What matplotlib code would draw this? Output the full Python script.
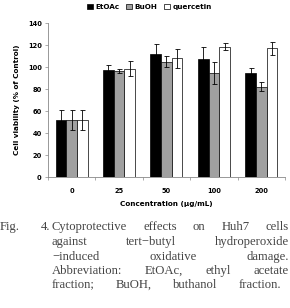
import matplotlib
matplotlib.use("Agg")
import matplotlib.pyplot as plt
import numpy as np
from matplotlib.patches import Patch

conc = ["0", "25", "50", "100", "200"]
series = ["EtOAc", "BuOH", "quercetin"]
etoac = [52, 97.5, 112, 107, 94.5]
etoac_err = [9, 4, 9, 11, 5]
buoh = [52, 96.5, 105, 95, 82]
buoh_err = [9, 1.5, 5, 10, 4]
querc = [52, 98.5, 108, 118.5, 117]
querc_err = [9, 7, 8.5, 3, 6]

caption_lines = [
    ["Cytoprotective", "effects", "on", "Huh7", "cells"],
    ["against", "tert\u2212butyl", "hydroperoxide"],
    ["\u2212induced", "oxidative", "damage."],
    ["Abbreviation:", "EtOAc,", "ethyl", "acetate"],
    ["fraction;", "BuOH,", "buthanol", "fraction."],
]

fig = plt.figure(figsize=(2.9, 3.08), dpi=100)
ax = fig.add_axes([0.1655, 0.425, 0.817, 0.50])

x = np.arange(len(conc))
w = 0.225
colors = ["black", "#a0a0a0", "white"]
vals = [etoac, buoh, querc]
errs = [etoac_err, buoh_err, querc_err]
for i in range(3):
    ax.bar(x + (i - 1) * w, vals[i], w, yerr=errs[i], color=colors[i],
           edgecolor="black", linewidth=0.5,
           error_kw=dict(ecolor="black", elinewidth=0.6, capsize=1.8, capthick=0.6))

ax.set_xlim(-0.5, len(conc) - 0.5)
ax.set_ylim(0, 140)
ax.set_yticks(range(0, 141, 20))
ax.set_xticks(x)
ax.set_xticklabels(conc)
ax.set_xticks(np.arange(-0.5, len(conc), 1), minor=True)
ax.tick_params(axis="x", which="major", length=0, pad=8)
ax.tick_params(axis="x", which="minor", length=2.5, width=0.5, color="#888888")
ax.tick_params(axis="y", length=2.5, width=0.5, color="#888888", pad=2)
for lab in ax.get_xticklabels() + ax.get_yticklabels():
    lab.set_fontsize(4.8)
    lab.set_fontweight("bold")
for s in ["top", "right"]:
    ax.spines[s].set_visible(False)
for s in ["left", "bottom"]:
    ax.spines[s].set_color("#888888")
    ax.spines[s].set_linewidth(0.6)
ax.set_ylabel("Cell viability (% of Control)", fontsize=5.2, fontweight="bold", labelpad=6)
ax.set_xlabel("Concentration (\u03bcg/mL)", fontsize=5.2, fontweight="bold", labelpad=5)

handles = [Patch(facecolor=c, edgecolor="black", linewidth=0.5) for c in colors]
fig.legend(handles, series, loc="center", bbox_to_anchor=(0.515, 0.978), ncol=3,
           frameon=False, prop=dict(size=5.2, weight="bold"), handlelength=0.8,
           handleheight=0.8, handletextpad=0.3, columnspacing=1.0)

# caption, justified
W, H = 290, 308
cap_font = dict(family="Liberation Serif", fontsize=9.1, color="#444444")
fig.text(0 / W, 1 - 227 / H, "Fig.", va="center", ha="left", **cap_font)
fig.text(41 / W, 1 - 227 / H, "4.", va="center", ha="left", **cap_font)
renderer = fig.canvas.get_renderer()
x0 = 52
ys = [227, 242, 257, 271, 285]
for k, (words, yy) in enumerate(zip(caption_lines, ys)):
    x1 = 281 if k == len(caption_lines) - 1 else 289
    objs = [fig.text(0, 1 - yy / H, wd, va="center", ha="left", **cap_font) for wd in words]
    widths = [o.get_window_extent(renderer).width for o in objs]
    gap = (x1 - x0 - sum(widths)) / (len(words) - 1)
    pos = x0
    for o, wdt in zip(objs, widths):
        o.set_x(pos / W)
        pos += wdt + gap

fig.savefig("out.png", dpi=100)
